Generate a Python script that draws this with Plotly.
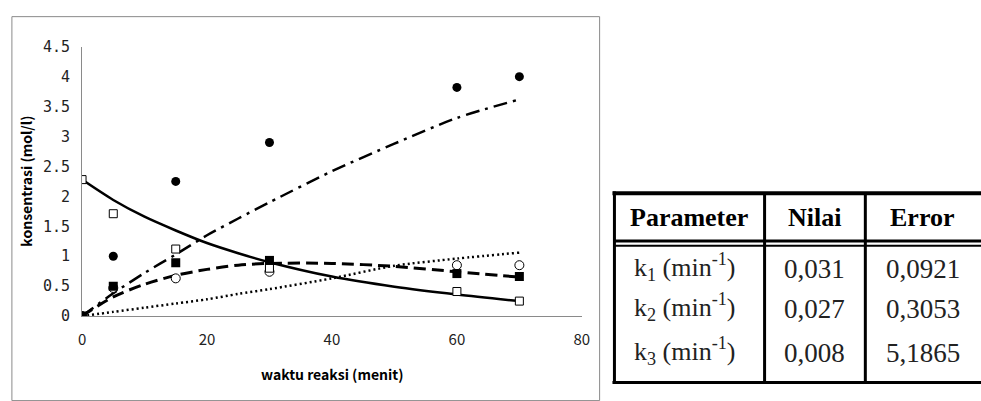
import plotly.graph_objects as go

# ---------------- data ----------------
time_obs = [0, 5, 15, 30, 60, 70]
filled_circle = [0, 1.0, 2.25, 2.9, 3.82, 4.0]
open_square = [2.28, 1.71, 1.12, 0.80, 0.41, 0.25]
filled_square = [0, 0.5, 0.89, 0.93, 0.71, 0.66]
open_circle = [0, 0.47, 0.63, 0.74, 0.85, 0.85]

time_fit = [0, 5, 10, 15, 20, 25, 30, 40, 50, 60, 70]
fit_solid = [2.28, 1.94, 1.66, 1.43, 1.22, 1.05, 0.90, 0.66, 0.49, 0.36, 0.25]
fit_dashed = [0, 0.32, 0.53, 0.68, 0.78, 0.85, 0.88, 0.88, 0.83, 0.74, 0.65]
fit_dashdot = [0, 0.38, 0.72, 1.03, 1.35, 1.63, 1.90, 2.42, 2.88, 3.31, 3.62]
fit_dotted = [0, 0.07, 0.14, 0.21, 0.28, 0.37, 0.45, 0.63, 0.84, 0.96, 1.06]

x_ticks = [0, 20, 40, 60, 80]
y_ticks = [0, 0.5, 1, 1.5, 2, 2.5, 3, 3.5, 4, 4.5]
y_ticklabels = ["0", "0.5", "1", "1.5", "2", "2.5", "3", "3.5", "4", "4.5"]

table_header = ["Parameter", "Nilai", "Error"]
table_param = ["k<sub>1</sub> (min<sup>-1</sup>)", "k<sub>2</sub> (min<sup>-1</sup>)", "k<sub>3</sub> (min<sup>-1</sup>)"]
table_nilai = ["0,031", "0,027", "0,008"]
table_error = ["0,0921", "0,3053", "5,1865"]

# ---------------- layout helpers ----------------
W, H = 981, 401
def px(x):
    return x / W
def py(y):
    return 1 - y / H

fig = go.Figure()

line_specs = [
    (fit_solid, "solid", 2.5),
    (fit_dashed, "12px,6px", 3),
    (fit_dashdot, "14px,6px,3px,6px", 2.5),
    (fit_dotted, "2px,3px", 2.5),
]
for ys, dash, w in line_specs:
    fig.add_trace(go.Scatter(x=time_fit, y=ys, mode="lines",
                             line=dict(color="black", width=w, dash=dash, shape="spline", smoothing=0.8),
                             showlegend=False, hoverinfo="skip"))

open_mk = dict(color="white", line=dict(color="black", width=1))
solid_mk = dict(color="black", line=dict(color="black", width=0))
marker_specs = [
    (open_circle, "circle", 9, open_mk),
    (open_square, "square", 8, open_mk),
    (filled_square, "square", 9, solid_mk),
    (filled_circle, "circle", 9, solid_mk),
]
for ys, sym, size, style in marker_specs:
    fig.add_trace(go.Scatter(x=time_obs, y=ys, mode="markers",
                             marker=dict(symbol=sym, size=size, **style),
                             showlegend=False, hoverinfo="skip"))

x_dom = [px(79), px(585)]
y_dom = [py(321.5), py(39.5)]

fig.update_layout(
    width=W, height=H, autosize=False,
    margin=dict(l=0, r=0, t=0, b=0),
    paper_bgcolor="white", plot_bgcolor="white",
    xaxis=dict(domain=x_dom, range=[0, 80], tickvals=x_ticks, showgrid=False, zeroline=False,
               showline=True, linecolor="#8a8a8a", linewidth=1, ticks="",
               tickfont=dict(family="Noto Sans CJK JP", size=15, color="#222"),
               ticklabelstandoff=10),
    yaxis=dict(domain=y_dom, range=[0, 4.5], tickvals=y_ticks, ticktext=y_ticklabels,
               showgrid=False, zeroline=False,
               showline=True, linecolor="#8a8a8a", linewidth=1, ticks="",
               tickfont=dict(family="DejaVu Sans Mono", size=15, color="#222"),
               ticklabelstandoff=8),
)

# outer chart border
fig.add_shape(type="rect", xref="paper", yref="paper",
              x0=px(8), x1=px(603), y0=py(410), y1=py(8),
              line=dict(color="#8a8a8a", width=1), fillcolor="rgba(0,0,0,0)", layer="below")

# axis titles
fig.add_annotation(text="waktu reaksi (menit)", xref="paper", yref="paper",
                   x=px(332), y=py(382), showarrow=False, xanchor="center", yanchor="middle",
                   font=dict(family="Noto Sans CJK JP", size=14, color="black", weight=600))
fig.add_annotation(text="konsentrasi (mol/l)", xref="paper", yref="paper",
                   x=px(22), y=py(180), showarrow=False, textangle=-90,
                   xanchor="center", yanchor="middle",
                   font=dict(family="Noto Sans CJK JP", size=14, color="black", weight=600))

# ---------------- table ----------------
t_left, t_right = 618, 990
t_top, t_head, t_bot = 193, 244, 391
col_x = [770, 872]
black = "black"
def hline(y, x0, x1, w):
    fig.add_shape(type="line", xref="paper", yref="paper", x0=px(x0), x1=px(x1),
                  y0=py(y), y1=py(y), line=dict(color=black, width=w))
def vline(x, y0, y1, w):
    fig.add_shape(type="line", xref="paper", yref="paper", x0=px(x), x1=px(x),
                  y0=py(y0), y1=py(y1), line=dict(color=black, width=w))

hline(t_top, t_left - 2, t_right, 4)
hline(t_head - 1, t_left, t_right, 3)
hline(t_head + 4, t_left, t_right, 2)
hline(t_bot, t_left - 2, t_right, 3)
vline(t_left, t_top - 2, t_bot + 1, 3)
for cx in col_x:
    vline(cx, t_top, t_bot, 3)

col_centers = [693, 821, 930]
for cx, txt in zip(col_centers, table_header):
    fig.add_annotation(text="<b>" + txt + "</b>", xref="paper", yref="paper",
                       x=px(cx), y=py(218), showarrow=False, xanchor="center", yanchor="middle",
                       font=dict(family="Liberation Serif", size=26, color="black"))

row_y = [272, 314, 360]
for i in range(len(table_param)):
    fig.add_annotation(text=table_param[i], xref="paper", yref="paper",
                       x=px(689), y=py(row_y[i] - 2), showarrow=False, xanchor="center", yanchor="middle",
                       font=dict(family="Liberation Serif", size=26, color="#222"))
    fig.add_annotation(text=table_nilai[i], xref="paper", yref="paper",
                       x=px(col_centers[1]), y=py(row_y[i]), showarrow=False, xanchor="center", yanchor="middle",
                       font=dict(family="Liberation Serif", size=27, color="#222"))
    fig.add_annotation(text=table_error[i], xref="paper", yref="paper",
                       x=px(col_centers[2]), y=py(row_y[i]), showarrow=False, xanchor="center", yanchor="middle",
                       font=dict(family="Liberation Serif", size=27, color="#222"))

fig.write_html("out.html", config={"responsive": False},
               post_script="document.body.style.margin='0';document.documentElement.style.overflow='hidden';")
